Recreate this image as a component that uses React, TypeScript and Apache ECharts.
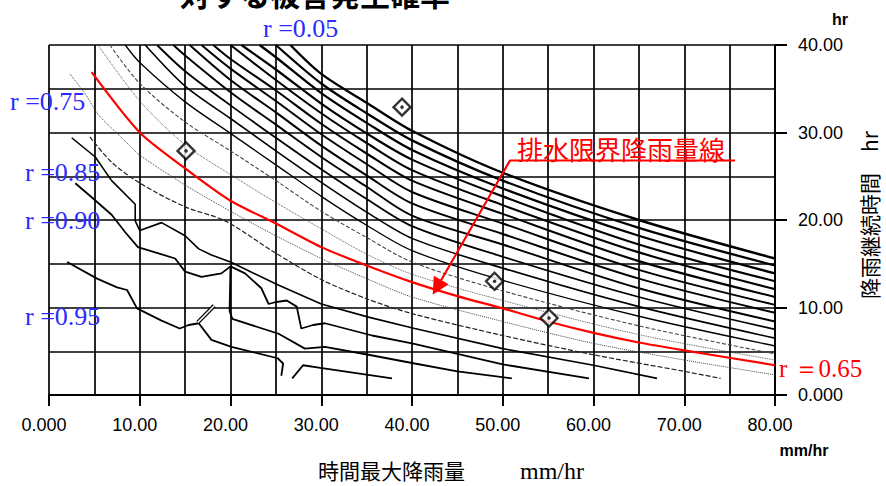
import React, { useEffect, useRef } from "react";
import * as echarts from "echarts";

// ---- axis ranges / tick values ----
const X_MIN = 0;
const X_MAX = 80;
const X_STEP = 10;
const Y_MIN = 0;
const Y_MAX = 40;
const Y_STEP = 10;

// ---- contour lines above the drainage limit line (top = r 0.05) ----
const c01 = [[26.6, 40], [30, 36.7], [35, 33.4], [40, 30.2], [50, 25.4], [65, 20.0], [80, 15.6]];
const c02 = [[25.0, 40], [30, 35.6], [35, 32.2], [40, 29.1], [50, 24.5], [65, 19.1], [80, 14.8]];
const c03 = [[23.2, 40], [25, 38.6], [30, 34.5], [35, 31.1], [40, 28.0], [50, 23.6], [65, 18.2], [80, 13.9]];
const c04 = [[21.2, 40], [25, 37.2], [30, 33.3], [35, 29.9], [40, 26.9], [50, 22.7], [65, 17.2], [80, 13.0]];
const c05 = [[20.0, 40], [25, 36.0], [30, 32.2], [35, 28.8], [40, 25.7], [50, 21.7], [65, 16.3], [80, 12.1]];
const c06 = [[18.1, 40], [20, 38.4], [25, 34.8], [30, 31.0], [35, 27.6], [40, 24.5], [50, 20.7], [65, 15.3], [80, 11.2]];
const c07 = [[16.8, 40], [20, 37.3], [25, 33.6], [30, 29.8], [35, 26.4], [40, 23.2], [50, 19.6], [65, 14.3], [80, 10.3]];
const c08 = [[15.5, 40], [20, 36.0], [25, 32.3], [30, 28.5], [35, 25.1], [40, 21.9], [50, 18.4], [65, 13.3], [80, 9.4]];
const c09 = [[13.7, 40], [15, 38.8], [20, 34.6], [25, 30.9], [30, 27.2], [35, 23.8], [40, 20.5], [50, 17.2], [65, 12.2], [80, 8.4]];
const c10 = [[11.9, 40], [15, 37.0], [20, 33.1], [25, 29.4], [30, 25.8], [35, 22.4], [40, 19.3], [50, 15.8], [65, 11.2], [80, 7.5]];
const c11 = [[10.6, 40], [15, 35.3], [20, 31.6], [25, 27.9], [30, 24.3], [35, 20.9], [40, 17.9], [50, 14.5], [65, 10.1], [80, 6.5]];
const c12 = [[8.4, 40], [10, 38.0], [15, 33.5], [20, 29.9], [25, 26.3], [30, 22.7], [35, 19.4], [40, 16.5], [50, 13.1], [65, 9.0], [80, 5.6]];
const c13 = [[6.7, 40], [10, 35.6], [15, 31.2], [20, 27.9], [25, 24.5], [30, 21.0], [35, 18.0], [40, 15.2], [50, 11.9], [65, 7.9], [80, 4.7]];
const c14 = [[5.4, 40], [10, 33.6], [15, 28.6], [20, 25.2], [25, 22.0], [30, 19.0], [35, 16.1], [40, 13.8], [50, 10.8], [65, 6.9], [80, 4.0]];

// ---- drainage limit rainfall line (r = 0.65) ----
const limitLine = [[4.7, 36.9], [10, 30.0], [15, 25.9], [20, 22.2], [25, 19.6], [30, 16.9], [35, 14.8], [40, 12.9], [45, 11.3], [50, 9.9], [55, 8.4], [60, 7.1], [65, 6.0], [70, 5.1], [80, 3.4]];

// ---- contour lines below the limit line ----
const r070 = [[2.3, 36.7], [4, 34.4], [5.4, 32.1], [7, 30.4], [9.1, 28.3], [10, 27.4], [15, 24.0], [20, 21.0], [25, 18.2], [30, 15.6], [35, 13.3], [40, 11.2], [50, 8.4], [60, 5.9], [70, 4.0], [80, 2.3]];
const r075 = [[4.5, 29.5], [7, 26.5], [10.2, 24.1], [15, 21.5], [19.4, 19.9], [25, 16.2], [30, 13.2], [35, 11.0], [40, 9.3], [50, 6.8], [60, 4.6], [70, 2.7], [74, 1.9]];
const r080 = [[2.5, 29.4], [5.1, 27.2], [6.9, 24.5], [9.5, 21.8], [9.5, 19.9], [10, 18.8], [12.4, 19.7], [15, 18.2], [16.5, 16.7], [17.9, 16.0], [20, 15.2], [25.2, 12.6], [30, 10.4], [35.2, 8.9], [40.3, 7.6], [50, 5.3], [60, 3.4], [67, 1.9]];
const r085 = [[2.9, 24.2], [4.7, 22.6], [6.9, 20.6], [8.4, 18.6], [9.8, 16.9], [11.7, 16.3], [13.9, 15.6], [15, 14.1], [16.8, 13.5], [19, 13.9], [20, 14.7], [21.6, 13.9], [23.4, 12.2], [24.2, 10.4], [24.9, 10.6], [26.2, 10.8], [27.3, 10.1], [27.8, 7.6], [29.1, 8.0], [30.4, 8.2], [35.6, 6.8], [40, 5.9], [50, 3.5], [59.5, 1.9]];
const r090 = [[20.0, 14.6], [19.9, 9.6], [20.2, 8.7], [25.3, 7.0], [28.2, 5.3], [30.4, 5.5], [35.2, 4.6], [40.3, 3.6], [45, 2.7], [51, 1.9]];
const r095a = [[2, 15.2], [5.3, 13.3], [7.5, 12.3], [8.6, 12.0], [9.7, 9.9], [12.4, 8.5], [14.4, 7.6], [15.4, 8.0], [16.5, 8.2], [17.9, 6.3], [20.1, 5.5], [25.2, 4.2], [25.8, 3.6], [25.6, 2.2]];
const r095b = [[26.8, 1.9], [28, 3.4], [29.9, 3.1], [37.8, 1.9]];
const slashMark = [[16.4, 8.3], [18.2, 10.2]];

// ---- observed points (diamonds) ----
const observed = [[38.9, 32.9], [15.1, 27.9], [49.1, 13.0], [55.1, 8.8]];

// ---- annotation leader (underline + arrow) ----
const leaderLine = [[75.6, 26.8], [50.8, 26.8], [42.75, 12.3]];
const arrowSegment = [[50.8, 26.8], [42.75, 12.3]];

// ---- texts ----
const titleText = "対する被害発生確率";
const annotationText = "排水限界降雨量線";
const xAxisTitle = "時間最大降雨量";
const xAxisTitleUnit = "mm/hr";
const yAxisTitle = "降雨継続時間　hr";
const xUnit = "mm/hr";
const yUnit = "hr";
const rLabels = ["r =0.05", "r =0.75", "r =0.85", "r =0.90", "r =0.95"];
const limitLabel = "r ＝0.65";

const upperLines = [c01, c02, c03, c04, c05, c06, c07, c08, c09, c10, c11, c12, c13, c14];
const upperWidths = [2.4, 2.3, 2.3, 2.2, 2.1, 2.1, 2, 2, 1.9, 1.8, 1.6, 1.3, 1.1, 0.9];
const rLabelPos = [[263, 28], [10, 101], [25, 172], [25, 220], [25, 316]];

const fmt = (v: number) => (v === 0 ? "0.000" : v.toFixed(2));

export default function App() {
  const ref = useRef<HTMLDivElement>(null);

  useEffect(() => {
    document.body.style.margin = "0";
    if (!ref.current) return;
    const chart = echarts.init(ref.current, undefined, { renderer: "svg" });

    const series: any[] = [];
    upperLines.forEach((d, i) => {
      series.push({
        type: "line",
        data: d,
        showSymbol: false,
        symbol: "none",
        smooth: 0.3,
        lineStyle: {
          color: i >= 12 ? "#444" : "#000",
          width: upperWidths[i],
          type: i === 13 ? "dotted" : i === 12 ? [4, 2] : "solid",
        },
        z: 2,
      });
    });
    const lower = [
      { d: r070, w: 1, t: "dotted", c: "#444", s: 0.3 },
      { d: r075, w: 1.2, t: [5, 2], c: "#222", s: 0.3 },
      { d: r080, w: 1.6, t: "solid", c: "#000", s: 0 },
      { d: r085, w: 1.8, t: "solid", c: "#000", s: 0 },
      { d: r090, w: 1.8, t: "solid", c: "#000", s: 0 },
      { d: r095a, w: 1.8, t: "solid", c: "#000", s: 0 },
      { d: r095b, w: 1.8, t: "solid", c: "#000", s: 0 },
    ];
    lower.forEach((l) => {
      series.push({
        type: "line",
        data: l.d,
        showSymbol: false,
        symbol: "none",
        smooth: l.s,
        lineStyle: { color: l.c, width: l.w, type: l.t },
        z: 2,
      });
    });
    series.push({
      type: "line",
      data: slashMark,
      showSymbol: false,
      symbol: "none",
      lineStyle: { color: "#000", width: 4 },
      z: 2,
    });
    series.push({
      type: "line",
      data: slashMark,
      showSymbol: false,
      symbol: "none",
      lineStyle: { color: "#fff", width: 1.5 },
      z: 3,
    });
    series.push({
      type: "line",
      data: limitLine,
      showSymbol: false,
      symbol: "none",
      smooth: 0.25,
      lineStyle: { color: "#ff0000", width: 2.2 },
      z: 4,
    });
    series.push({
      type: "line",
      data: leaderLine,
      showSymbol: false,
      symbol: "none",
      clip: false,
      lineStyle: { color: "#ff0000", width: 1.8 },
      z: 6,
    });
    series.push({
      type: "lines",
      coordinateSystem: "cartesian2d",
      data: [{ coords: arrowSegment }],
      symbol: ["none", "triangle"],
      symbolSize: [13, 17],
      lineStyle: { color: "#ff0000", width: 1.8, opacity: 1 },
      z: 6,
    });
    series.push({
      type: "scatter",
      data: observed,
      symbol: "diamond",
      symbolSize: 17,
      itemStyle: { color: "#fff", borderColor: "#000", borderWidth: 2.4 },
      z: 7,
    });
    series.push({
      type: "scatter",
      data: observed,
      symbol: "circle",
      symbolSize: 3.5,
      itemStyle: { color: "#000" },
      z: 8,
    });

    const labelStyle = {
      fontFamily: "Liberation Sans",
      fontSize: 18,
      color: "#000",
    };

    const graphic: any[] = [
      {
        type: "text",
        x: 180,
        y: -7,
        style: {
          text: titleText,
          fontFamily: "Noto Sans CJK JP",
          fontSize: 30,
          fontWeight: "bold",
          fill: "#000",
          align: "left",
          verticalAlign: "middle",
        },
      },
      {
        type: "text",
        x: 517,
        y: 148,
        z: 10,
        style: {
          text: annotationText,
          fontFamily: "Noto Sans CJK JP",
          fontSize: 26,
          fill: "#ff0000",
          align: "left",
          verticalAlign: "middle",
        },
      },
      {
        type: "text",
        x: 318,
        y: 470,
        style: {
          text: xAxisTitle,
          fontFamily: "Noto Sans CJK JP",
          fontSize: 21,
          fill: "#000",
          align: "left",
          verticalAlign: "middle",
        },
      },
      {
        type: "text",
        x: 520,
        y: 471,
        style: {
          text: xAxisTitleUnit,
          fontFamily: "Liberation Serif",
          fontSize: 24,
          fill: "#000",
          align: "left",
          verticalAlign: "middle",
        },
      },
      {
        type: "text",
        x: 869,
        y: 215,
        rotation: Math.PI / 2,
        style: {
          text: yAxisTitle,
          fontFamily: "Noto Sans CJK JP",
          fontSize: 21,
          fill: "#000",
          align: "center",
          verticalAlign: "middle",
        },
      },
      {
        type: "text",
        x: 840,
        y: 19,
        style: {
          text: yUnit,
          fontFamily: "Liberation Sans",
          fontSize: 16,
          fontWeight: "bold",
          fill: "#000",
          align: "center",
          verticalAlign: "middle",
        },
      },
      {
        type: "text",
        x: 804,
        y: 450,
        style: {
          text: xUnit,
          fontFamily: "Liberation Sans",
          fontSize: 16,
          fontWeight: "bold",
          fill: "#000",
          align: "center",
          verticalAlign: "middle",
        },
      },
      {
        type: "text",
        x: 779,
        y: 368,
        z: 10,
        style: {
          text: limitLabel,
          fontFamily: "Liberation Serif",
          fontSize: 25,
          fill: "#ff0000",
          align: "left",
          verticalAlign: "middle",
        },
      },
      ...rLabels.map((t, i) => ({
        type: "text",
        x: rLabelPos[i][0],
        y: rLabelPos[i][1],
        z: 10,
        style: {
          text: t,
          fontFamily: "Liberation Serif",
          fontSize: 26,
          fill: "#2b2bff",
          align: "left",
          verticalAlign: "middle",
        },
      })),
    ];

    chart.setOption({
      animation: false,
      backgroundColor: "#ffffff",
      grid: {
        left: 49,
        top: 45,
        width: 726,
        height: 350,
        containLabel: false,
        outerBoundsMode: "none",
      },
      xAxis: {
        type: "value",
        min: X_MIN,
        max: X_MAX,
        interval: X_STEP,
        axisLine: { show: true, onZero: false, lineStyle: { color: "#000", width: 2 } },
        axisTick: { show: true, inside: false, length: 11, lineStyle: { color: "#000", width: 2 } },
        minorTick: { show: false, splitNumber: 2 },
        splitLine: { show: true, lineStyle: { color: "#000", width: 1.7 } },
        minorSplitLine: { show: true, lineStyle: { color: "#000", width: 1.7 } },
        axisLabel: {
          ...labelStyle,
          margin: 21,
          padding: [0, 10, 0, 0],
          showMinLabel: true,
          showMaxLabel: true,
          hideOverlap: false,
          formatter: fmt,
        },
      },
      yAxis: {
        type: "value",
        position: "right",
        min: Y_MIN,
        max: Y_MAX,
        interval: Y_STEP,
        axisLine: { show: true, onZero: false, lineStyle: { color: "#000", width: 2 } },
        axisTick: { show: true, inside: false, length: 12, lineStyle: { color: "#000", width: 2 } },
        minorTick: { show: false, splitNumber: 2 },
        splitLine: { show: true, lineStyle: { color: "#000", width: 1.7 } },
        minorSplitLine: { show: true, lineStyle: { color: "#000", width: 1.7 } },
        axisLabel: {
          ...labelStyle,
          margin: 23,
          showMinLabel: true,
          showMaxLabel: true,
          hideOverlap: false,
          formatter: fmt,
        },
      },
      series,
      graphic,
    });

    return () => {
      chart.dispose();
    };
  }, []);

  return (
    <div
      ref={ref}
      style={{
        position: "fixed",
        left: 0,
        top: 0,
        width: 886,
        height: 486,
        background: "#fff",
      }}
    />
  );
}
